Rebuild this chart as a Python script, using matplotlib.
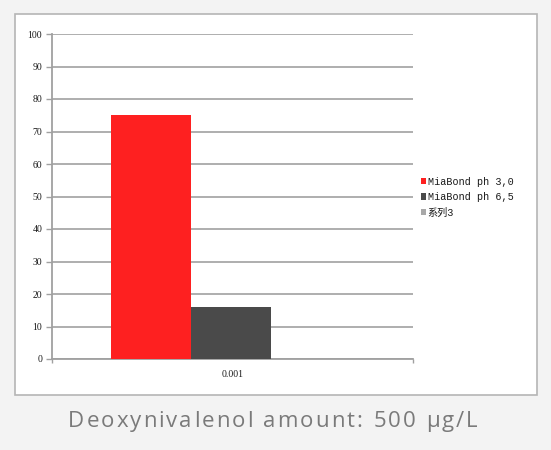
import matplotlib
matplotlib.use("Agg")
import matplotlib.pyplot as plt
from matplotlib.patches import Rectangle
import numpy as np

categories = ["0.001"]
series_names = ["MiaBond ph 3,0", "MiaBond ph 6,5", "系列3"]
series_values = [[75], [16], [0]]
series_colors = ["#fe2020", "#4a4a4a", "#a8a8a8"]
yticks = [0, 10, 20, 30, 40, 50, 60, 70, 80, 90, 100]
title = "Deoxynivalenol amount: 500 µg/L"

W, H = 551, 450
fig = plt.figure(figsize=(5.51, 4.5), dpi=100)
fig.patch.set_facecolor("#f3f3f3")

# white chart panel (behind the axes)
panel = Rectangle((15 / W, (450 - 395) / H), (537 - 15) / W, (395 - 14) / H,
                  transform=fig.transFigure, facecolor="white",
                  edgecolor="#b5b5b5", linewidth=1.2, zorder=-5)
fig.add_artist(panel)

ax = fig.add_axes([52 / W, (450 - 359) / H, (413 - 52) / W, (359 - 34) / H])
ax.set_zorder(2)
ax.set_facecolor("none")

x = np.arange(len(categories))
w = 0.222
offsets = [-w, 0, w]
for name, vals, col, off in zip(series_names, series_values, series_colors, offsets):
    ax.bar(x + off - 0.004, vals, width=w, color=col, label=name, zorder=3,
           edgecolor="none")

ax.set_xlim(-0.5, 0.5)
ax.set_ylim(0, 100)
ax.set_yticks(yticks)
ax.set_yticklabels([str(t) for t in yticks], fontsize=7, family="Liberation Serif",
                   color="#1a1a1a")
ax.set_xticks(x)
ax.set_xticklabels(categories, fontsize=7, family="Liberation Serif", color="#1a1a1a")
ax.tick_params(axis="x", length=0, pad=8)
ax.set_xticks([-0.5, 0.5], minor=True)
ax.tick_params(axis="x", which="minor", length=3, color="#a0a0a0", width=1)
ax.tick_params(axis="y", length=4, color="#a0a0a0", width=1, pad=3)

ax.grid(axis="y", color="#a8a8a8", linewidth=1.3, zorder=1)
for s in ["top", "right"]:
    ax.spines[s].set_visible(False)
ax.spines["left"].set_color("#a0a0a0")
ax.spines["left"].set_linewidth(1.3)
ax.spines["bottom"].set_color("#a0a0a0")
ax.spines["bottom"].set_linewidth(1.3)

leg = ax.legend(loc="center left", bbox_to_anchor=(1.01, 0.498), frameon=False,
                prop={"family": ["Liberation Mono", "Noto Sans CJK SC"], "size": 7.3},
                handlelength=0.55, handleheight=0.55, handletextpad=0.15,
                labelspacing=0.55, borderaxespad=0)
for t in leg.get_texts():
    t.set_color("#1a1a1a")

# title with letter spacing, drawn character by character
renderer = fig.canvas.get_renderer()
tprops = dict(fontsize=16, family="Open Sans", color="#7a7a7a", va="baseline", ha="left")
widths = []
for ch in title:
    t = fig.text(0, 0, ch if ch != " " else "a", **tprops)
    bb = t.get_window_extent(renderer)
    widths.append(bb.width * (0.55 if ch == " " else 1.0))
    t.remove()
tracking = 2.0
total = sum(widths) + tracking * (len(title) - 1)
xpos = 273 - total / 2
for ch, wd in zip(title, widths):
    if ch != " ":
        fig.text(xpos / W, (450 - 427) / H, ch, **tprops)
    xpos += wd + tracking

fig.savefig("out.png", dpi=100, facecolor=fig.get_facecolor())
